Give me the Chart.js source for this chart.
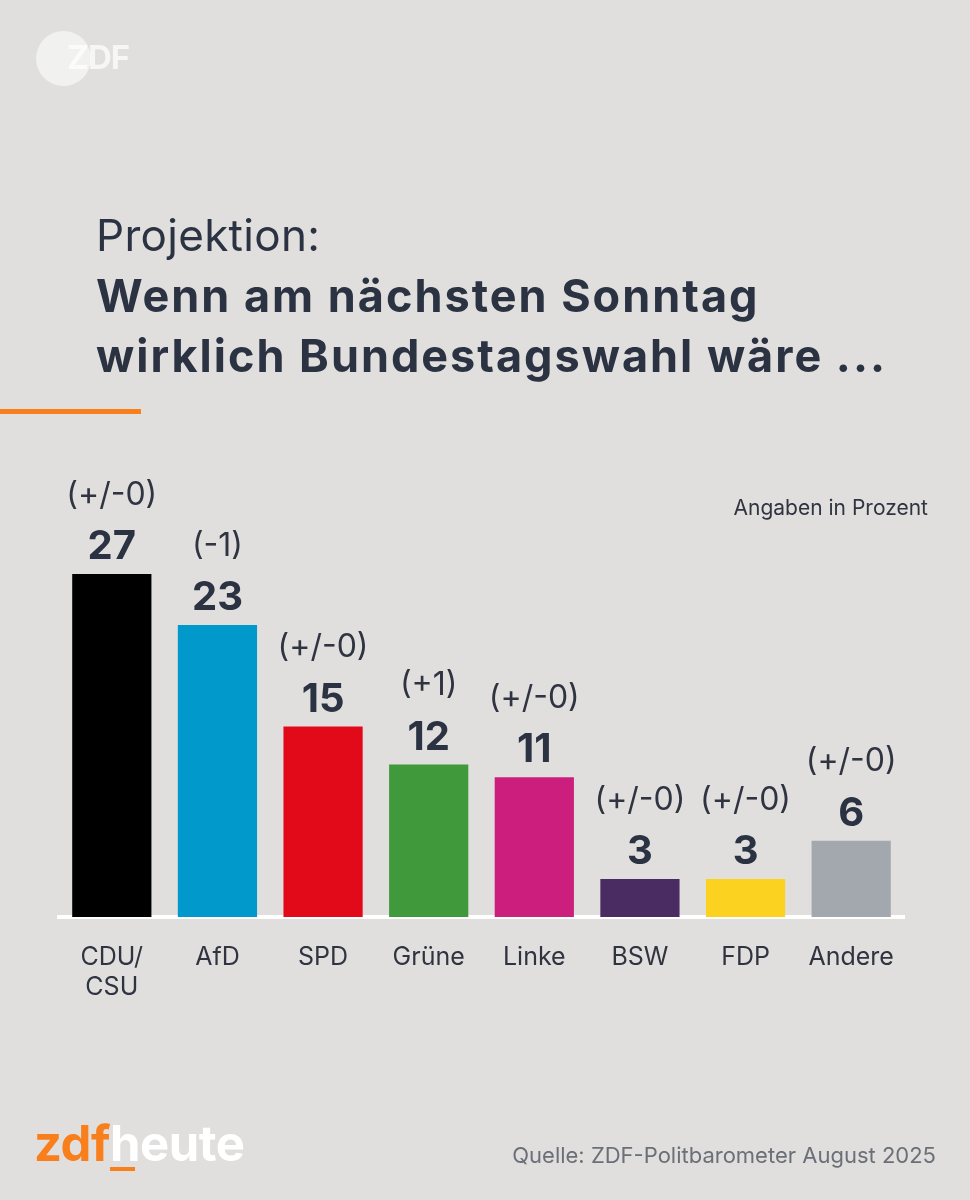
<!DOCTYPE html>
<html>
<head>
<meta charset="utf-8">
<script src="https://cdn.jsdelivr.net/npm/chart.js@4.4.1/dist/chart.umd.min.js"></script>
<style>
  html, body { margin: 0; padding: 0; }
  body { width: 970px; height: 1200px; background: #e0dfde; position: relative; overflow: hidden; font-family: Inter, "Noto Sans", sans-serif; }
  #wrap { position: absolute; left: 0; top: 0; width: 970px; height: 1200px; }
  .t { position: absolute; white-space: nowrap; color: #2b3242; }
  #kicker { left: 96px; top: 207px; font-size: 44px; font-weight: 400; line-height: 56px; letter-spacing: 0.3px; }
  #title { left: 96px; top: 266px; font-size: 45px; font-weight: 700; line-height: 60px; letter-spacing: 2px; }
  #rule { position: absolute; left: 0; top: 409px; width: 141px; height: 5px; background: #f97e1c; }
  #unit { right: 42px; top: 495px; font-size: 21px; line-height: 26px; color: #2f3440; }
  #source { right: 34px; top: 1141px; font-size: 22px; line-height: 28px; color: #6b6f77; }
  #zdfcircle { position: absolute; left: 36px; top: 31px; width: 55px; height: 55px; border-radius: 50%; background: rgba(255,255,255,0.55); }
  #zdftext { position: absolute; left: 67px; top: 35px; font-size: 33px; font-weight: 700; color: rgba(255,255,255,0.7); letter-spacing: -1px; line-height: 44px; }
  #brand { position: absolute; left: 34px; top: 1114px; font-size: 49px; font-weight: 700; line-height: 60px; letter-spacing: -0.5px; }
  #brand .z { color: #f97e1c; }
  #brand .h { color: #ffffff; }
  #brandline { position: absolute; left: 110px; top: 1167px; width: 25px; height: 4px; background: #f97e1c; }
</style>
</head>
<body>
<div id="wrap"><canvas id="c" width="970" height="1200"></canvas></div>
<div id="zdfcircle"></div>
<div id="zdftext">ZDF</div>
<div class="t" id="kicker">Projektion:</div>
<div class="t" id="title">Wenn am nächsten Sonntag<br>wirklich Bundestagswahl wäre ...</div>
<div id="rule"></div>
<div class="t" id="unit">Angaben in Prozent</div>
<div class="t" id="source">Quelle: ZDF-Politbarometer August 2025</div>
<div id="brand"><span class="z">zdf</span><span class="h">heute</span></div>
<div id="brandline"></div>
<script>
const parties = [['CDU/', 'CSU'], 'AfD', 'SPD', 'Grüne', 'Linke', 'BSW', 'FDP', 'Andere'];
const values = [27, 23, 15, 12, 11, 3, 3, 6];
const changes = ['(+/-0)', '(-1)', '(+/-0)', '(+1)', '(+/-0)', '(+/-0)', '(+/-0)', '(+/-0)'];
const colors = ['#000000', '#0199cc', '#e20a19', '#409a3c', '#cc1e7d', '#4a2c62', '#fbd21f', '#a3a7ae'];

const labelPlugin = {
  id: 'barLabels',
  afterDatasetsDraw(chart) {
    const ctx = chart.ctx;
    const meta = chart.getDatasetMeta(0);
    ctx.save();
    ctx.textAlign = 'center';
    ctx.textBaseline = 'middle';
    meta.data.forEach((bar, i) => {
      const x = bar.x;
      const top = bar.y;
      ctx.fillStyle = '#2b3242';
      ctx.font = '700 40px Inter, "Noto Sans", sans-serif';
      ctx.fillText(String(values[i]), x, top - 27);
      ctx.fillStyle = '#2f3440';
      ctx.font = '400 32px Inter, "Noto Sans", sans-serif';
      ctx.fillText(changes[i], x, top - 79);
    });
    ctx.restore();
  }
};

new Chart(document.getElementById('c'), {
  type: 'bar',
  data: {
    labels: parties,
    datasets: [{
      data: values,
      backgroundColor: colors,
      borderWidth: 0,
      barPercentage: 0.75,
      categoryPercentage: 1.0
    }]
  },
  options: {
    responsive: false,
    animation: false,
    devicePixelRatio: 1,
    layout: { padding: { left: 59, right: 66, top: 409, bottom: 190 } },
    plugins: { legend: { display: false }, tooltip: { enabled: false } },
    scales: {
      y: { display: false, min: 0, max: 40 },
      x: {
        afterFit(scale) { scale.height = 93; },
        grid: { display: false, drawTicks: false },
        border: { display: true, color: '#ffffff', width: 4 },
        ticks: {
          color: '#2f3440',
          padding: 25,
          maxRotation: 0,
          autoSkip: false,
          font: { family: 'Inter, "Noto Sans", sans-serif', size: 25, weight: '400', lineHeight: 1.22 }
        }
      }
    }
  },
  plugins: [labelPlugin]
});
</script>
</body>
</html>
